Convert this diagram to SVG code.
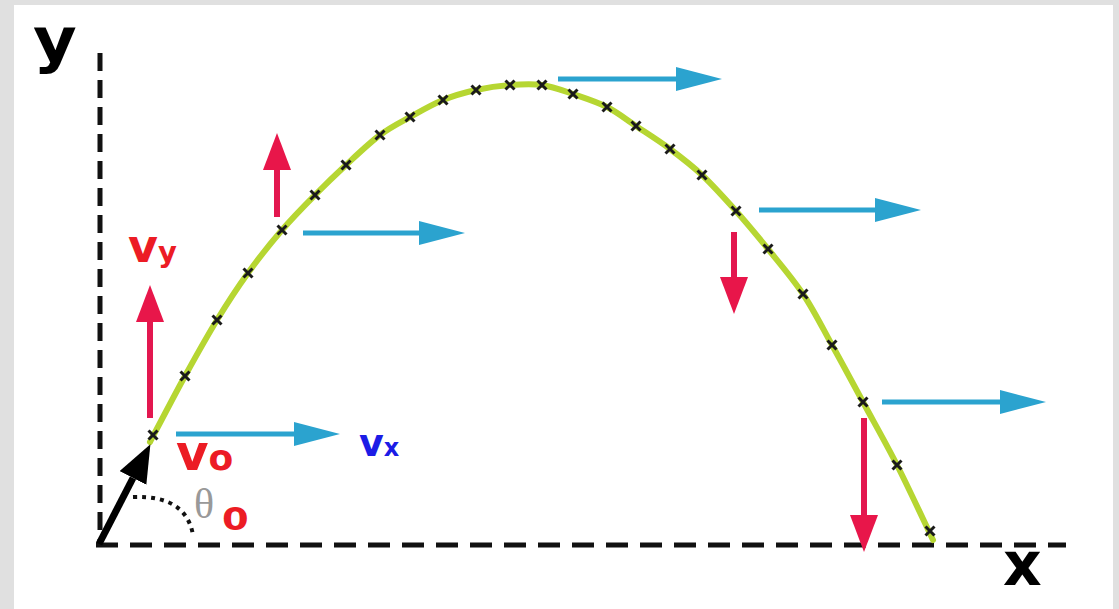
<svg xmlns="http://www.w3.org/2000/svg" width="1119" height="609" viewBox="0 0 1119 609">
<style>
.axis{fill:none;stroke:#111;stroke-width:5}
.blue{stroke:#2ba3cf;stroke-width:5;fill:none}
.red{stroke:#e3174f;stroke-width:6;fill:none}
.curve{fill:none;stroke:#b6d632;stroke-width:6;stroke-linecap:round}
.xm{stroke:#1a1a1a;stroke-width:3;fill:none}
.lbl{font-family:"DejaVu Sans","Liberation Sans",sans-serif;font-weight:bold}
</style>
<defs>
<marker id="bh" markerUnits="userSpaceOnUse" markerWidth="46" markerHeight="24" viewBox="0 0 46 24" refX="0" refY="12" orient="auto"><path d="M0,0 L46,12 L0,24 z" fill="#2ba3cf"/></marker>
<marker id="rh" markerUnits="userSpaceOnUse" markerWidth="37" markerHeight="28" viewBox="0 0 37 28" refX="0" refY="14" orient="auto"><path d="M0,0 L37,14 L0,28 z" fill="#e8164a"/></marker>
<marker id="kh" markerUnits="userSpaceOnUse" markerWidth="38" markerHeight="30" viewBox="0 0 38 30" refX="0" refY="15" orient="auto"><path d="M0,0 L38,15 L0,30 z" fill="#000"/></marker>
<path id="xmk" class="xm" d="M-4.5,-4.5L4.5,4.5M-4.5,4.5L4.5,-4.5"/>
</defs>
<rect x="0" y="0" width="1119" height="609" fill="#e0e0e0"/>
<rect x="14" y="5" width="1099" height="604" fill="#fff"/>
<g id="axes">
<line class="axis" x1="100" y1="53" x2="100" y2="545" stroke-dasharray="18 9"/>
<line class="axis" x1="96" y1="545" x2="1066" y2="545" stroke-dasharray="22 12"/>
<path d="M133,497 Q186,495 193,535" fill="none" stroke="#111" stroke-width="4" stroke-dasharray="4 5"/>
</g>
<g id="trajectory">
<path class="curve" d="M150,442 C155.8,431 173.8,396.3 185,376 C196.2,355.7 206.5,337.2 217,320 C227.5,302.8 237.2,288 248,273 C258.8,258 270.8,243 282,230 C293.2,217 304.3,205.8 315,195 C325.7,184.2 335.2,175 346,165 C356.8,155 369.3,143 380,135 C390.7,127 399.5,122.8 410,117 C420.5,111.2 432,104.5 443,100 C454,95.5 464.8,92.5 476,90 C487.2,87.5 499,85.8 510,85 C521,84.2 531.5,83.5 542,85 C552.5,86.5 562.2,90.3 573,94 C583.8,97.7 596.5,101.7 607,107 C617.5,112.3 625.5,119 636,126 C646.5,133 659,140.8 670,149 C681,157.2 691,164.7 702,175 C713,185.3 725,198.7 736,211 C747,223.3 756.8,235.2 768,249 C779.2,262.8 792.3,278 803,294 C813.7,310 822,327 832,345 C842,363 852.2,382 863,402 C873.8,422 885.3,442 897,465 C908.7,488 927,527.5 933,540"/>
<use href="#xmk" x="153" y="435"/><use href="#xmk" x="185" y="376"/><use href="#xmk" x="217" y="320"/><use href="#xmk" x="248" y="273"/><use href="#xmk" x="282" y="230"/><use href="#xmk" x="315" y="195"/><use href="#xmk" x="346" y="165"/><use href="#xmk" x="380" y="135"/><use href="#xmk" x="410" y="117"/><use href="#xmk" x="443" y="100"/><use href="#xmk" x="476" y="90"/><use href="#xmk" x="510" y="85"/><use href="#xmk" x="542" y="85"/><use href="#xmk" x="573" y="94"/><use href="#xmk" x="607" y="107"/><use href="#xmk" x="636" y="126"/><use href="#xmk" x="670" y="149"/><use href="#xmk" x="702" y="175"/><use href="#xmk" x="736" y="211"/><use href="#xmk" x="768" y="249"/><use href="#xmk" x="803" y="294"/><use href="#xmk" x="832" y="345"/><use href="#xmk" x="863" y="402"/><use href="#xmk" x="897" y="465"/><use href="#xmk" x="930" y="531"/>
</g>
<g id="connectors">
<line class="blue" x1="176" y1="434" x2="294" y2="434" marker-end="url(#bh)"/>
<line class="blue" x1="303" y1="233" x2="419" y2="233" marker-end="url(#bh)"/>
<line class="blue" x1="558" y1="79" x2="676" y2="79" marker-end="url(#bh)"/>
<line class="blue" x1="759" y1="210" x2="875" y2="210" marker-end="url(#bh)"/>
<line class="blue" x1="882" y1="402" x2="1000" y2="402" marker-end="url(#bh)"/>
<line class="red" x1="150" y1="418" x2="150" y2="322" marker-end="url(#rh)"/>
<line class="red" x1="277" y1="217" x2="277" y2="170" marker-end="url(#rh)"/>
<line class="red" x1="734" y1="232" x2="734" y2="277" marker-end="url(#rh)"/>
<line class="red" x1="864" y1="418" x2="864" y2="515" marker-end="url(#rh)"/>
<line x1="99" y1="544" x2="133" y2="478" stroke="#000" stroke-width="7" marker-end="url(#kh)"/>
</g>
<g id="labels">
<text class="lbl" transform="translate(33,61) scale(1.12,1)" font-size="60" fill="#000">y</text>
<text class="lbl" x="1003" y="585" font-size="60" fill="#000">x</text>
<text class="lbl" x="128" y="262" font-size="46" fill="#ec1c24">v<tspan font-size="29">y</tspan></text>
<text class="lbl" x="176" y="470" font-size="50" fill="#ec1c24">v<tspan font-size="36">o</tspan></text>
<text x="194" y="518" font-family="Liberation Serif,serif" font-size="42" fill="#999">θ</text>
<text class="lbl" transform="translate(222,530) scale(1.2,1)" font-size="32" fill="#ec1c24">0</text>
<text class="lbl" x="359" y="456" font-size="38" fill="#1c1ce6">v<tspan font-size="24">x</tspan></text>
</g>
</svg>
